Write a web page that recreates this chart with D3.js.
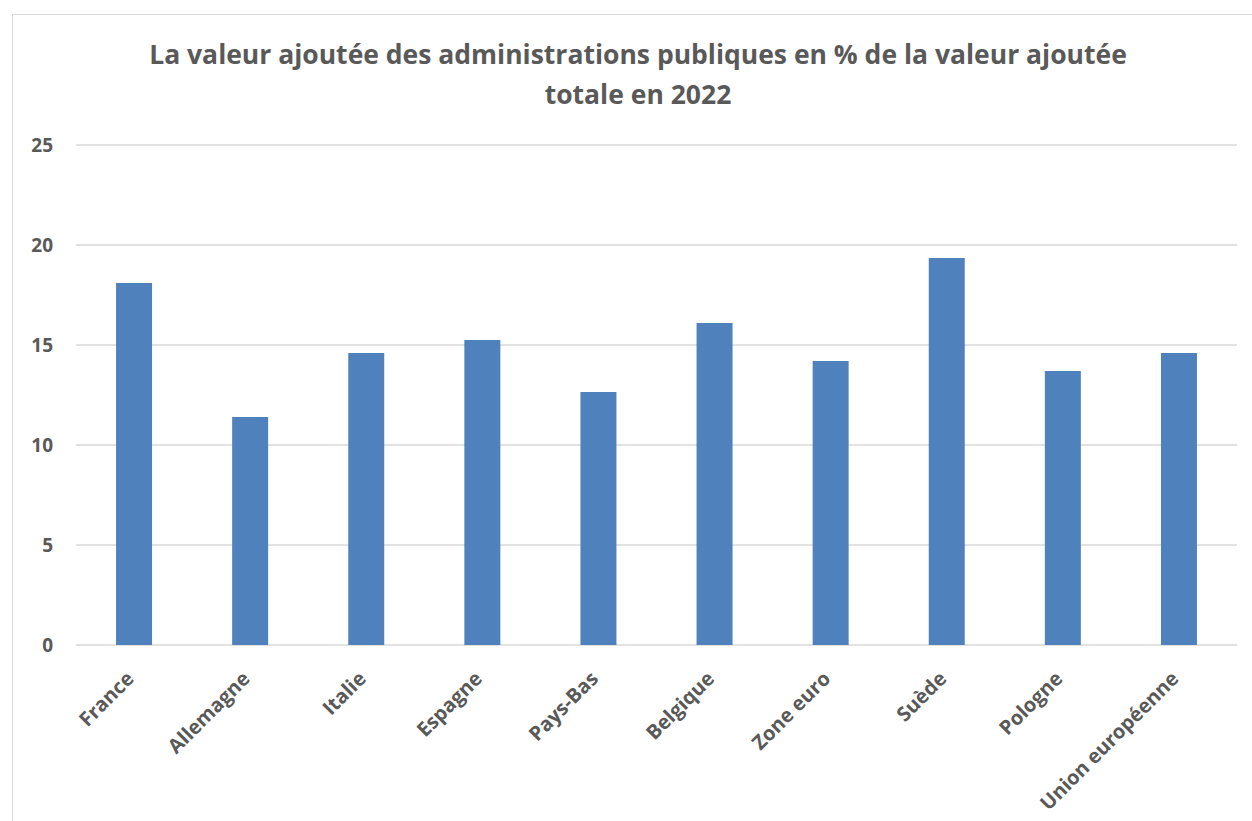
<!DOCTYPE html>
<html>
<head>
<meta charset="utf-8">
<script src="https://cdn.jsdelivr.net/npm/d3@7"></script>
<style>
  body { margin: 0; background: #fff; }
  text { font-family: "Open Sans", sans-serif; fill: #595959; }
</style>
</head>
<body>
<div id="chart"></div>
<script>
const pays = ["France", "Allemagne", "Italie", "Espagne", "Pays-Bas", "Belgique", "Zone euro", "Suède", "Pologne", "Union européenne"];
const valeurs = [18.1, 11.4, 14.6, 15.25, 12.65, 16.1, 14.2, 19.35, 13.7, 14.6];
const yTicks = [0, 5, 10, 15, 20, 25];
const titre = ["La valeur ajoutée des administrations publiques en % de la valeur ajoutée", "totale en 2022"];

const width = 1252, height = 821;
const margin = {left: 76, right: 15, top: 145, bottom: 176};

const svg = d3.select("#chart").append("svg")
  .attr("width", width)
  .attr("height", height);

// cadre du graphique
svg.append("rect")
  .attr("x", 12.5).attr("y", 14.5)
  .attr("width", 1260).attr("height", 830)
  .attr("fill", "none")
  .attr("stroke", "#d9d9d9");

const x = d3.scaleBand()
  .domain(pays)
  .range([margin.left, width - margin.right])
  .paddingInner(0.69)
  .paddingOuter(0.345);

const y = d3.scaleLinear()
  .domain([0, 25])
  .range([height - margin.bottom, margin.top]);

// grille
svg.append("g")
  .selectAll("line")
  .data(yTicks)
  .join("line")
  .attr("x1", margin.left)
  .attr("x2", width - margin.right)
  .attr("y1", d => y(d))
  .attr("y2", d => y(d))
  .attr("stroke", "#d9d9d9")
  .attr("stroke-width", 1.3);

// axe y
const yAxis = svg.append("g")
  .attr("transform", `translate(${margin.left - 23},0)`)
  .call(d3.axisLeft(y).tickValues(yTicks).tickSize(0).tickPadding(0));
yAxis.select(".domain").remove();
yAxis.selectAll("text")
  .style("font-size", "19px")
  .style("font-weight", 700)
  .attr("fill", "#595959");

// barres
svg.append("g")
  .selectAll("rect")
  .data(valeurs)
  .join("rect")
  .attr("x", (d, i) => x(pays[i]))
  .attr("y", d => y(d))
  .attr("width", x.bandwidth())
  .attr("height", d => y(0) - y(d))
  .attr("fill", "#4f81bd");

// étiquettes x
svg.append("g")
  .selectAll("text")
  .data(pays)
  .join("text")
  .attr("transform", d => `translate(${x(d) + x.bandwidth() / 2 + 1},${y(0) + 35}) rotate(-45)`)
  .attr("text-anchor", "end")
  .style("font-size", "20px")
  .style("font-weight", 700)
  .text(d => d);

// titre
svg.append("g")
  .selectAll("text")
  .data(titre)
  .join("text")
  .attr("x", 638)
  .attr("y", (d, i) => 64 + i * 40)
  .attr("text-anchor", "middle")
  .style("font-size", "26.5px")
  .style("font-weight", 700)
  .text(d => d);
</script>
</body>
</html>
